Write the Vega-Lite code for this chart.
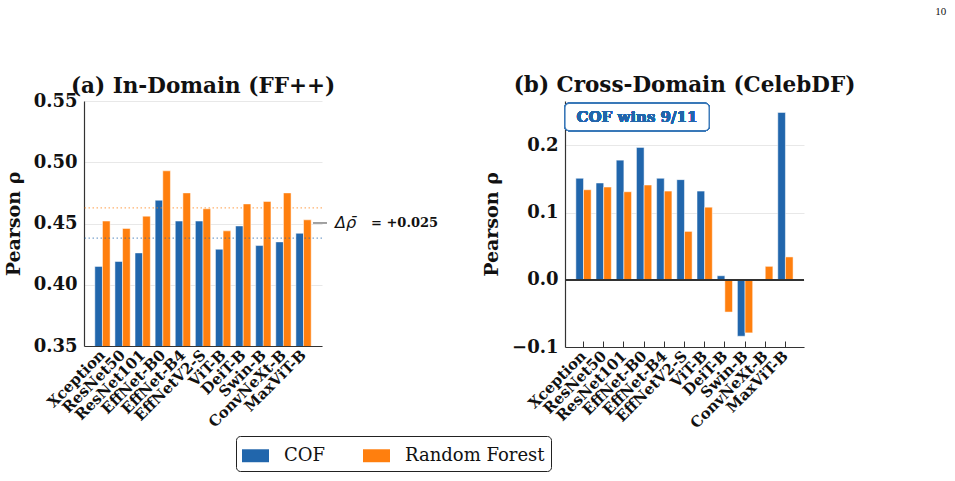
{
  "$schema": "https://vega.github.io/schema/vega-lite/v6.json",
  "background": "white",
  "padding": {"left": 4, "top": 5, "right": 5, "bottom": 5},
  "title": {"text": "10", "anchor": "end", "font": "Liberation Serif", "fontSize": 11, "fontWeight": "normal", "color": "#111", "dx": 91, "offset": 58},
  "datasets": {
    "ff": [
      {"model": "Xception", "method": "COF", "value": 0.415},
      {"model": "Xception", "method": "Random Forest", "value": 0.452},
      {"model": "ResNet50", "method": "COF", "value": 0.419},
      {"model": "ResNet50", "method": "Random Forest", "value": 0.446},
      {"model": "ResNet101", "method": "COF", "value": 0.426},
      {"model": "ResNet101", "method": "Random Forest", "value": 0.456},
      {"model": "EffNet-B0", "method": "COF", "value": 0.469},
      {"model": "EffNet-B0", "method": "Random Forest", "value": 0.493},
      {"model": "EffNet-B4", "method": "COF", "value": 0.452},
      {"model": "EffNet-B4", "method": "Random Forest", "value": 0.475},
      {"model": "EffNetV2-S", "method": "COF", "value": 0.452},
      {"model": "EffNetV2-S", "method": "Random Forest", "value": 0.462},
      {"model": "ViT-B", "method": "COF", "value": 0.429},
      {"model": "ViT-B", "method": "Random Forest", "value": 0.444},
      {"model": "DeiT-B", "method": "COF", "value": 0.448},
      {"model": "DeiT-B", "method": "Random Forest", "value": 0.466},
      {"model": "Swin-B", "method": "COF", "value": 0.432},
      {"model": "Swin-B", "method": "Random Forest", "value": 0.468},
      {"model": "ConvNeXt-B", "method": "COF", "value": 0.435},
      {"model": "ConvNeXt-B", "method": "Random Forest", "value": 0.475},
      {"model": "MaxViT-B", "method": "COF", "value": 0.442},
      {"model": "MaxViT-B", "method": "Random Forest", "value": 0.453}
    ],
    "celeb": [
      {"model": "Xception", "method": "COF", "value": 0.151},
      {"model": "Xception", "method": "Random Forest", "value": 0.134},
      {"model": "ResNet50", "method": "COF", "value": 0.144},
      {"model": "ResNet50", "method": "Random Forest", "value": 0.138},
      {"model": "ResNet101", "method": "COF", "value": 0.178},
      {"model": "ResNet101", "method": "Random Forest", "value": 0.131},
      {"model": "EffNet-B0", "method": "COF", "value": 0.197},
      {"model": "EffNet-B0", "method": "Random Forest", "value": 0.141},
      {"model": "EffNet-B4", "method": "COF", "value": 0.151},
      {"model": "EffNet-B4", "method": "Random Forest", "value": 0.132},
      {"model": "EffNetV2-S", "method": "COF", "value": 0.149},
      {"model": "EffNetV2-S", "method": "Random Forest", "value": 0.072},
      {"model": "ViT-B", "method": "COF", "value": 0.132},
      {"model": "ViT-B", "method": "Random Forest", "value": 0.108},
      {"model": "DeiT-B", "method": "COF", "value": 0.006},
      {"model": "DeiT-B", "method": "Random Forest", "value": -0.048},
      {"model": "Swin-B", "method": "COF", "value": -0.084},
      {"model": "Swin-B", "method": "Random Forest", "value": -0.079},
      {"model": "ConvNeXt-B", "method": "COF", "value": -0.001},
      {"model": "ConvNeXt-B", "method": "Random Forest", "value": 0.020},
      {"model": "MaxViT-B", "method": "COF", "value": 0.249},
      {"model": "MaxViT-B", "method": "Random Forest", "value": 0.034}
    ]
  },
  "hconcat": [
    {
      "width": 238,
      "height": 245,
      "title": {"text": "(a) In-Domain (FF++)", "frame": "group", "offset": -5.5},
      "data": {"name": "ff"},
      "layer": [
        {
          "mark": {"type": "bar", "stroke": "white", "strokeWidth": 0.5, "clip": true},
          "encoding": {
            "x": {"field": "model", "type": "nominal", "sort": null, "scale": {"paddingInner": 0.24, "paddingOuter": 0.538}, "axis": {"title": null}},
            "xOffset": {"field": "method", "type": "nominal", "sort": ["COF", "Random Forest"]},
            "y": {"field": "value", "type": "quantitative", "scale": {"domain": [0.35, 0.55], "nice": false, "zero": false}, "axis": {"title": "Pearson ρ", "values": [0.35, 0.4, 0.45, 0.5, 0.55], "format": ".2f"}},
            "color": {
              "field": "method", "type": "nominal",
              "scale": {"domain": ["COF", "Random Forest"], "range": ["#2166ac", "#ff7f0e"]},
              "legend": {
                "title": null, "orient": "none", "legendX": 152, "legendY": 335, "direction": "horizontal",
                "symbolType": "M-1,-0.48H1V0.48H-1Z", "symbolSize": 729, "symbolStrokeWidth": 0, "symbolOpacity": 1,
                "labelFont": "DejaVu Serif", "labelFontSize": 18, "labelFontWeight": "normal", "labelColor": "#111", "labelOffset": 15,
                "columnPadding": 37, "padding": 6, "strokeColor": "#222", "fillColor": "white", "cornerRadius": 4
              }
            }
          }
        },
        {
          "mark": {"type": "rule", "strokeDash": [1.5, 2.5], "strokeWidth": 1.2, "opacity": 0.6},
          "encoding": {
            "y": {"aggregate": "mean", "field": "value", "type": "quantitative"},
            "stroke": {"field": "method", "type": "nominal", "scale": {"domain": ["COF", "Random Forest"], "range": ["#2166ac", "#ff7f0e"]}, "legend": null}
          }
        },
        {
          "mark": {"type": "rule", "color": "#444", "strokeWidth": 1},
          "encoding": {
            "x": {"datum": 0.962, "type": "quantitative", "scale": {"domain": [0, 1], "nice": false, "zero": false}, "axis": null},
            "x2": {"datum": 1.021},
            "y": {"aggregate": "mean", "field": "value", "type": "quantitative"}
          }
        },
        {
          "mark": {"type": "text", "text": "Δρ̄", "font": "DejaVu Sans", "fontStyle": "italic", "fontSize": 16, "align": "left", "baseline": "middle", "color": "#111"},
          "encoding": {
            "x": {"datum": 1.055, "type": "quantitative", "scale": {"domain": [0, 1], "nice": false, "zero": false}, "axis": null},
            "y": {"aggregate": "mean", "field": "value", "type": "quantitative"}
          }
        },
        {
          "mark": {"type": "text", "text": "= +0.025", "font": "DejaVu Serif", "fontWeight": "bold", "fontSize": 13, "align": "left", "baseline": "middle", "color": "#111"},
          "encoding": {
            "x": {"datum": 1.206, "type": "quantitative", "scale": {"domain": [0, 1], "nice": false, "zero": false}, "axis": null},
            "y": {"aggregate": "mean", "field": "value", "type": "quantitative"}
          }
        }
      ],
      "resolve": {"scale": {"x": "independent"}, "axis": {"x": "independent"}}
    },
    {
      "width": 239,
      "height": 246,
      "title": {"text": "(b) Cross-Domain (CelebDF)", "frame": "group", "offset": 5},
      "data": {"name": "celeb"},
      "layer": [
        {
          "mark": {"type": "bar", "stroke": "white", "strokeWidth": 0.5},
          "encoding": {
            "x": {"field": "model", "type": "nominal", "sort": null, "scale": {"paddingInner": 0.24, "paddingOuter": 0.538}, "axis": {"title": null}},
            "xOffset": {"field": "method", "type": "nominal", "sort": ["COF", "Random Forest"]},
            "y": {"field": "value", "type": "quantitative", "scale": {"domain": [-0.1, 0.266], "nice": false, "zero": false}, "axis": {"title": "Pearson ρ", "values": [-0.1, 0, 0.1, 0.2], "format": ".1f"}},
            "color": {"field": "method", "type": "nominal", "scale": {"domain": ["COF", "Random Forest"], "range": ["#2166ac", "#ff7f0e"]}}
          }
        },
        {
          "mark": {"type": "rule", "color": "#333", "strokeWidth": 1.2},
          "encoding": {"y": {"datum": 0, "type": "quantitative"}}
        },
        {
          "mark": {"type": "rect", "fill": "white", "stroke": "#3a78b8", "strokeWidth": 1.2, "cornerRadius": 4},
          "encoding": {
            "x": {"datum": 0.0, "type": "quantitative", "scale": {"domain": [0, 1], "nice": false, "zero": false}, "axis": null},
            "x2": {"datum": 0.603},
            "y": {"datum": 0.222, "type": "quantitative"},
            "y2": {"datum": 0.2624}
          }
        },
        {
          "mark": {"type": "text", "text": "COF wins 9/11", "font": "DejaVu Serif", "fontWeight": "bold", "fontSize": 15, "align": "center", "baseline": "middle", "color": "#2166ac"},
          "encoding": {
            "x": {"datum": 0.301, "type": "quantitative", "scale": {"domain": [0, 1], "nice": false, "zero": false}, "axis": null},
            "y": {"datum": 0.2422, "type": "quantitative"}
          }
        }
      ],
      "resolve": {"scale": {"x": "independent"}, "axis": {"x": "independent"}}
    }
  ],
  "spacing": 243,
  "bounds": "flush",
  "config": {
    "view": {"stroke": null},
    "title": {"font": "DejaVu Serif", "fontSize": 21.5, "fontWeight": "bold", "color": "#111"},
    "axis": {
      "domainColor": "#333", "domainWidth": 1.2, "gridColor": "#e8e8e8", "gridWidth": 1,
      "labelFont": "DejaVu Serif", "labelFontWeight": "bold", "labelColor": "#111",
      "titleFont": "DejaVu Serif", "titleFontWeight": "bold", "titleColor": "#111"
    },
    "axisX": {"grid": false, "labelAngle": -45, "labelAlign": "right", "labelBaseline": "middle", "labelFontSize": 15, "tickColor": "#333", "tickSize": -6, "tickWidth": 1, "labelPadding": 12},
    "axisY": {"grid": true, "ticks": false, "labelFontSize": 18, "labelPadding": 7, "titleFontSize": 19, "titlePadding": 10}
  }
}
